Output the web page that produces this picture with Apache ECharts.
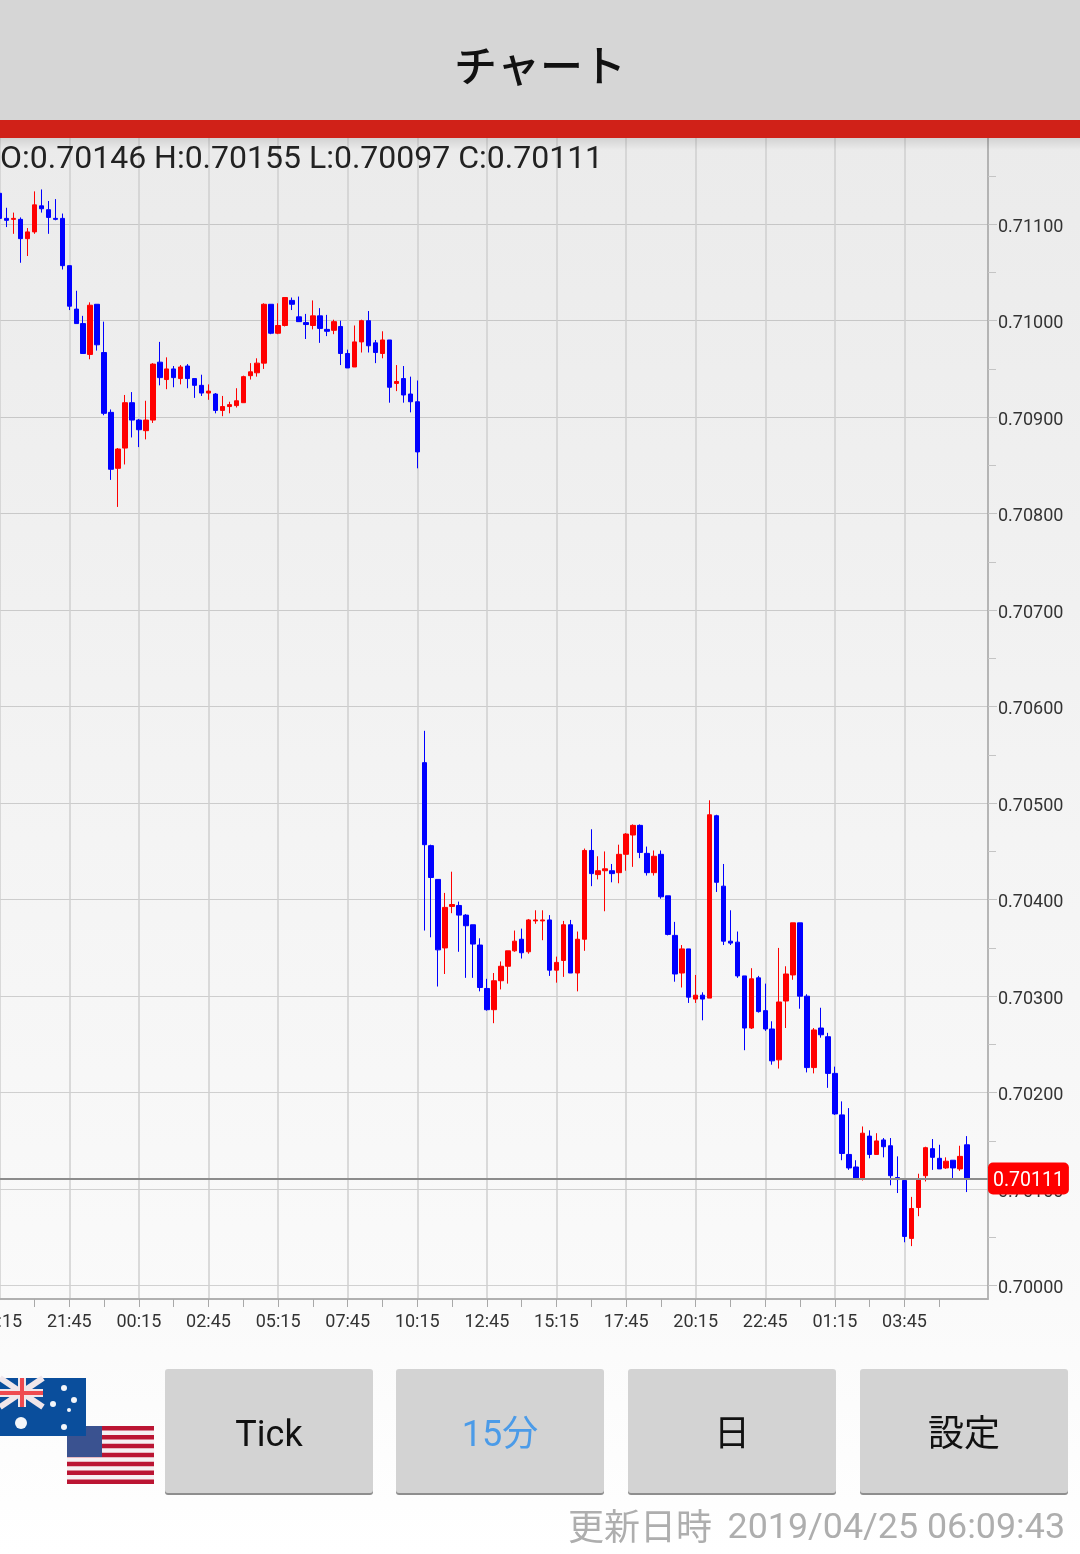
<!DOCTYPE html>
<html><head><meta charset="utf-8">
<style>html,body{margin:0;padding:0;background:#fff}#c{width:1080px;height:1554px}</style>
<script src="https://cdn.jsdelivr.net/npm/echarts@6/dist/echarts.min.js"></script>
</head><body><div id="c"></div>
<script>
const titleText = 'チャート';
const ohlcText = 'O:0.70146 H:0.70155 L:0.70097 C:0.70111';
const updatedLabel = '更新日時';
const updatedTime = '2019/04/25 06:09:43';
const buttonLabels = ['Tick', '15分', '日', '設定'];
const lastPrice = 0.70111;
const xTickLabels = ['19:15','21:45','00:15','02:45','05:15','07:45','10:15','12:45','15:15','17:45','20:15','22:45','01:15','03:45'];
const yLabelValues = [0.700,0.701,0.702,0.703,0.704,0.705,0.706,0.707,0.708,0.709,0.710,0.711];
const yMinorTickValues = [0.7005,0.7015,0.7025,0.7035,0.7045,0.7055,0.7065,0.7075,0.7085,0.7095,0.7105,0.7115];
const opens = [0.71132,0.71106,0.71105,0.71105,0.71085,0.71092,0.71119,0.71115,0.71106,0.71106,
0.71057,0.71012,0.70997,0.70965,0.71017,0.70967,0.70905,0.70847,0.70868,0.70915,
0.70897,0.70886,0.70897,0.70957,0.70939,0.70950,0.70940,0.70953,0.70940,0.70933,
0.70925,0.70924,0.70907,0.70911,0.70912,0.70915,0.70943,0.70946,0.70956,0.71017,
0.70987,0.70995,0.71021,0.71004,0.70998,0.70995,0.71005,0.70991,0.70990,0.70994,
0.70966,0.70952,0.70978,0.71000,0.70977,0.70966,0.70980,0.70935,0.70940,0.70924,
0.70916,0.70542,0.70456,0.70421,0.70350,0.70393,0.70394,0.70384,0.70374,0.70353,
0.70308,0.70286,0.70316,0.70331,0.70347,0.70359,0.70346,0.70378,0.70378,0.70379,
0.70327,0.70337,0.70374,0.70324,0.70359,0.70451,0.70426,0.70430,0.70430,0.70428,
0.70447,0.70467,0.70477,0.70448,0.70428,0.70447,0.70404,0.70363,0.70324,0.70349,
0.70297,0.70301,0.70298,0.70487,0.70414,0.70357,0.70356,0.70321,0.70267,0.70319,
0.70285,0.70266,0.70234,0.70295,0.70322,0.70376,0.70300,0.70226,0.70267,0.70258,
0.70220,0.70177,0.70136,0.70123,0.70111,0.70155,0.70136,0.70151,0.70145,0.70112,
0.70109,0.70049,0.70081,0.70114,0.70142,0.70132,0.70122,0.70130,0.70121,0.70146];
const closes = [0.71106,0.71104,0.71106,0.71085,0.71092,0.71120,0.71116,0.71107,0.71105,0.71057,
0.71015,0.70997,0.70966,0.71016,0.70975,0.70904,0.70846,0.70867,0.70915,0.70897,
0.70887,0.70897,0.70955,0.70941,0.70950,0.70941,0.70952,0.70940,0.70933,0.70925,
0.70927,0.70907,0.70911,0.70913,0.70917,0.70942,0.70947,0.70956,0.71017,0.70987,
0.70995,0.71024,0.71017,0.70999,0.70996,0.71005,0.70992,0.70989,0.70999,0.70966,
0.70951,0.70978,0.71000,0.70974,0.70967,0.70980,0.70931,0.70937,0.70923,0.70916,
0.70864,0.70457,0.70423,0.70348,0.70392,0.70395,0.70384,0.70373,0.70354,0.70309,
0.70286,0.70316,0.70331,0.70347,0.70357,0.70345,0.70379,0.70379,0.70379,0.70327,
0.70335,0.70374,0.70324,0.70359,0.70451,0.70427,0.70430,0.70432,0.70427,0.70447,
0.70468,0.70477,0.70449,0.70428,0.70445,0.70403,0.70364,0.70323,0.70349,0.70299,
0.70301,0.70297,0.70488,0.70418,0.70357,0.70355,0.70321,0.70267,0.70318,0.70284,
0.70266,0.70233,0.70294,0.70323,0.70376,0.70300,0.70226,0.70265,0.70260,0.70220,
0.70178,0.70137,0.70122,0.70111,0.70158,0.70136,0.70150,0.70144,0.70114,0.70110,
0.70051,0.70080,0.70111,0.70143,0.70133,0.70121,0.70129,0.70122,0.70134,0.70111];
const highs = [0.71132,0.71117,0.71112,0.71107,0.71096,0.71134,0.71136,0.71124,0.71126,0.71111,
0.71057,0.71031,0.71005,0.71019,0.71017,0.70999,0.70908,0.70868,0.70923,0.70926,
0.70898,0.70917,0.70956,0.70978,0.70962,0.70953,0.70954,0.70955,0.70940,0.70944,
0.70934,0.70925,0.70922,0.70916,0.70930,0.70943,0.70956,0.70961,0.71018,0.71017,
0.71018,0.71024,0.71024,0.71025,0.71007,0.71021,0.71013,0.71006,0.71001,0.71000,
0.70970,0.70995,0.71001,0.71010,0.70980,0.70989,0.70980,0.70954,0.70953,0.70942,
0.70938,0.70575,0.70457,0.70421,0.70407,0.70429,0.70398,0.70385,0.70374,0.70360,
0.70318,0.70324,0.70336,0.70347,0.70368,0.70370,0.70380,0.70389,0.70389,0.70384,
0.70341,0.70378,0.70379,0.70367,0.70453,0.70473,0.70445,0.70450,0.70437,0.70457,
0.70469,0.70478,0.70478,0.70455,0.70451,0.70451,0.70404,0.70377,0.70353,0.70349,
0.70322,0.70304,0.70503,0.70488,0.70437,0.70389,0.70367,0.70321,0.70329,0.70321,
0.70313,0.70274,0.70350,0.70331,0.70376,0.70376,0.70302,0.70267,0.70288,0.70262,
0.70227,0.70191,0.70184,0.70130,0.70165,0.70161,0.70158,0.70153,0.70153,0.70134,
0.70110,0.70092,0.70116,0.70144,0.70152,0.70146,0.70133,0.70130,0.70145,0.70155];
const lows = [0.71106,0.71097,0.71090,0.71060,0.71067,0.71090,0.71112,0.71090,0.71104,0.71053,
0.71011,0.70997,0.70966,0.70960,0.70969,0.70902,0.70835,0.70807,0.70851,0.70879,
0.70869,0.70877,0.70894,0.70933,0.70929,0.70931,0.70934,0.70930,0.70920,0.70922,
0.70918,0.70904,0.70901,0.70904,0.70910,0.70915,0.70939,0.70942,0.70950,0.70986,
0.70986,0.70994,0.71011,0.70999,0.70981,0.70991,0.70977,0.70984,0.70986,0.70954,
0.70951,0.70952,0.70967,0.70967,0.70956,0.70961,0.70915,0.70927,0.70915,0.70905,
0.70847,0.70368,0.70361,0.70310,0.70323,0.70386,0.70346,0.70319,0.70319,0.70305,
0.70285,0.70272,0.70307,0.70313,0.70346,0.70339,0.70344,0.70375,0.70358,0.70321,
0.70314,0.70320,0.70324,0.70305,0.70347,0.70414,0.70421,0.70388,0.70418,0.70417,
0.70430,0.70434,0.70443,0.70425,0.70425,0.70401,0.70363,0.70315,0.70309,0.70293,
0.70293,0.70275,0.70298,0.70408,0.70353,0.70353,0.70319,0.70244,0.70266,0.70283,
0.70264,0.70229,0.70225,0.70267,0.70317,0.70287,0.70221,0.70220,0.70257,0.70205,
0.70177,0.70130,0.70120,0.70110,0.70109,0.70132,0.70136,0.70133,0.70104,0.70096,
0.70045,0.70041,0.70072,0.70108,0.70120,0.70121,0.70121,0.70111,0.70119,0.70097];

const categoryCount = 143;
const categories = Array.from({length: categoryCount}, (_, i) => String(i));
const candles = opens.map((o, i) => [o, closes[i], lows[i], highs[i]]);
const yMin = 0.699862, yMax = 0.711893;

const chart = echarts.init(document.getElementById('c'), null, {renderer: 'canvas'});
const FONT = 'Roboto, sans-serif';
const CJK = 'Roboto, "Noto Sans CJK JP", sans-serif';
const gfx = [];
function rect(x, y, w, h, fill, r) {
  gfx.push({type: 'rect', z: 100, silent: true, shape: {x, y, width: w, height: h, r: r || 0}, style: {fill}});
}
function text(str, x, y, font, fill, align) {
  gfx.push({type: 'text', z: 101, silent: true, style: {text: str, x, y, font, fill, textAlign: align || 'center', textVerticalAlign: 'middle'}});
}
function line(x1, y1, x2, y2, stroke, w) {
  gfx.push({type: 'line', z: 100, silent: true, shape: {x1, y1, x2, y2}, style: {stroke, lineWidth: w}});
}
function dot(cx, cy, r) {
  gfx.push({type: 'circle', z: 100, silent: true, shape: {cx, cy, r}, style: {fill: '#f4f6fa'}});
}
// header
rect(0, 0, 1080, 120, '#d6d6d6');
rect(0, 120, 1080, 18, '#d02118');
gfx.push({type: 'rect', z: 99, silent: true, shape: {x: 0, y: 138, width: 1080, height: 12},
  style: {fill: new echarts.graphic.LinearGradient(0, 0, 0, 1, [{offset: 0, color: 'rgba(0,0,0,0.10)'}, {offset: 1, color: 'rgba(0,0,0,0)'}])}});
text(titleText, 540, 66, '500 43px "Noto Sans CJK JP", sans-serif', '#111');
text(ohlcText, 0, 160, '32px ' + FONT, '#222', 'left');
// US flag
rect(67, 1426, 87, 58, '#f6f0f2');
for (let i = 0; i < 7; i++) rect(67, 1426 + i * 8.92, 87, 4.46, '#bb1533');
rect(67, 1426, 35, 31, '#3a5290');
// AU flag
rect(0, 1378, 86, 58, '#0a4e9c');
line(0, 1378, 43, 1407, '#f0e6ea', 6);
line(0, 1407, 43, 1378, '#f0e6ea', 6);
rect(18, 1378, 8, 29, '#f0e6ea');
rect(0, 1389, 43, 8, '#f0e6ea');
rect(20, 1378, 4, 29, '#ef4a50');
rect(0, 1391, 43, 4, '#ef4a50');
[[64,1388,3],[74,1400,3],[53,1404,3],[69,1410,2],[64,1427,3],[21,1423,6]].forEach(d => dot(d[0], d[1], d[2]));
// buttons
[[165,373],[396,604],[628,836],[860,1068]].forEach((b, i) => {
  rect(b[0], 1371, b[1] - b[0], 124, '#8e8e8e', 3);
  rect(b[0], 1369, b[1] - b[0], 124, '#d3d3d3', 3);
  text(buttonLabels[i], (b[0] + b[1]) / 2, 1437, '36px ' + CJK, i === 1 ? '#4b9be8' : '#111');
});
text(updatedLabel, 712, 1526, '36px "Noto Sans CJK JP", sans-serif', '#aeaeae', 'right');
text(updatedTime, 1065, 1529, '35.8px ' + FONT, '#aeaeae', 'right');

chart.setOption({
  animation: false,
  backgroundColor: new echarts.graphic.LinearGradient(0, 0, 0, 1, [
    {offset: 0, color: '#e8e8e8'}, {offset: 0.09, color: '#ebebeb'}, {offset: 0.84, color: '#fafafa'}, {offset: 1, color: '#ffffff'}]),
  grid: {left: -0.3, top: 138, width: 988.3, height: 1161, containLabel: false, outerBoundsMode: 'none'},
  xAxis: {
    type: 'category', data: categories, boundaryGap: false, position: 'bottom',
    axisLine: {show: true, onZero: false, lineStyle: {color: '#b0b0b0', width: 2}},
    axisTick: {show: true, length: 8, interval: i => i % 5 === 0 && i <= 135, lineStyle: {color: '#a8a8a8', width: 1}},
    axisLabel: {interval: i => i % 10 === 0 && i <= 130, hideOverlap: false, showMinLabel: true, margin: 14, fontFamily: FONT, fontSize: 18, color: '#333',
      formatter: (v, i) => xTickLabels[Number(v) / 10]},
    splitLine: {show: true, interval: i => i % 10 === 0 && i <= 130, lineStyle: {color: '#cfcfcf', width: 1.5}}
  },
  yAxis: [{
    type: 'value', position: 'right', min: yMin, max: yMax,
    axisLine: {show: true, onZero: false, lineStyle: {color: '#a0a0a0', width: 1.5}},
    axisTick: {show: true, length: 9, customValues: yLabelValues, lineStyle: {color: '#c4c4c4', width: 1}},
    axisLabel: {customValues: yLabelValues, margin: 10, formatter: v => '{v|' + Number(v).toFixed(5) + '}',
      rich: {v: {fontFamily: FONT, fontSize: 18, color: '#333', padding: [6, 0, 0, 0]}}},
    splitLine: {show: true, lineStyle: {color: 'rgba(0,0,0,0.16)', width: 1}}
  }, {
    type: 'value', position: 'right', min: yMin, max: yMax,
    axisLine: {show: false},
    axisTick: {show: true, length: 8, customValues: yMinorTickValues, lineStyle: {color: '#c4c4c4', width: 1}},
    axisLabel: {show: false},
    splitLine: {show: false}
  }],
  series: [{
    type: 'candlestick', data: candles, barWidth: 5, clip: true,
    itemStyle: {color: '#ff0000', color0: '#0000ff', borderColor: '#ff0000', borderColor0: '#0000ff', borderWidth: 1},
    markLine: {
      silent: true, symbol: 'none', animation: false, precision: 5,
      lineStyle: {color: '#8c8c8c', width: 2, type: 'solid'},
      data: [{yAxis: lastPrice}],
      label: {show: true, position: 'end', distance: 0, formatter: () => '{v|' + lastPrice.toFixed(5) + '}',
        rich: {v: {color: '#fff', fontFamily: FONT, fontSize: 19.5, padding: [6, 0, 0, 0]}},
        backgroundColor: '#ff0000', borderRadius: 5, padding: [3, 5, 3, 5]}
    }
  }],
  graphic: {elements: gfx}
});
</script></body></html>
